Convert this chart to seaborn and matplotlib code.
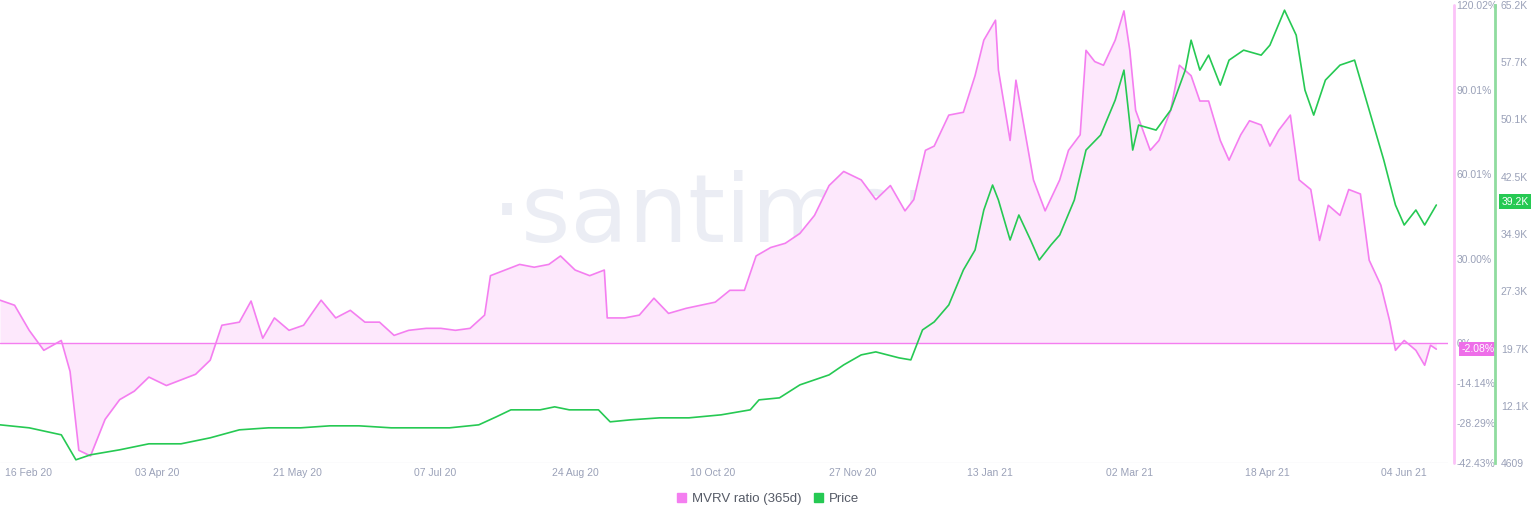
import matplotlib
matplotlib.use("Agg")
import matplotlib.pyplot as plt
import matplotlib.dates as mdates
import matplotlib.transforms as mtransforms
import seaborn as sns
import pandas as pd
import numpy as np

START = "2020-02-09"
mvrv_days = [0,5,10,15,21,24,27,31,36,41,46,51,57,62,67,72,76,82,86,90,94,99,104,110,115,120,125,130,135,140,146,151,156,161,166,168,173,178,183,188,192,197,202,207,208,214,219,224,229,235,240,245,250,255,259,264,269,274,279,284,289,295,300,305,310,313,317,320,325,330,334,337,341,342,346,348,351,354,358,363,366,370,372,375,378,382,385,387,389,394,397,401,404,408,411,414,418,421,425,428,432,435,438,442,445,449,452,455,459,462,466,469,473,476,478,481,485,488,490,492]
mvrv_vals = [15.3,13.5,4.6,-2.5,1,-10,-38,-40,-27,-20,-17,-12,-15,-13,-11,-6,6.4,7.5,15,1.8,9,4.6,6.4,15.3,9,11.7,7.5,7.5,2.8,4.6,5.3,5.3,4.6,5.3,10,24,26,28,27,28,31,26,24,26,9,9,10,16,10.6,12.4,13.5,14.6,18.8,18.8,31,34,35.5,39,45.4,56,61,58,51,56,47,51,68.5,70,81,82,95,107.6,114.7,97,72,93.4,75.6,58,47,58,68.5,74,104,100,98.7,107.6,118,104,82.7,68.5,72,82.7,98.7,95,86,86,72,65,74,79,77.5,70,75.6,81,58,54.6,36.5,49,45.4,54.6,53,29.5,20.6,8,-2.5,1,-2.5,-7.8,-0.7,-2.08]
price_days = [0,10,21,26,31,41,51,62,72,82,92,103,113,123,134,144,154,164,170,175,185,190,195,205,209,216,226,236,247,257,260,267,274,284,289,295,300,308,312,316,320,325,330,334,337,340,342,346,349,353,356,360,363,368,372,377,382,385,388,390,396,401,406,408,411,414,418,421,426,432,435,440,444,447,450,454,459,464,469,474,478,481,485,488,492]
price_vals = [9636,9240,8313,5006,5667,6329,7123,7123,7916,8975,9240,9240,9504,9504,9240,9240,9240,9636,10695,11621,11621,12018,11621,11621,10033,10298,10562,10562,10959,11621,12944,13209,14928,16251,17574,18897,19294,18500,18236,22204,23263,25512,30143,32789,38081,41388,39404,34111,37420,34111,31466,33450,34773,39404,46018,48003,52634,56603,46018,49326,48664,51310,56603,60572,56603,58587,54618,57925,59248,58587,59910,64540,61234,53957,50649,55280,57264,57925,51310,44695,38742,36096,38081,36096,38742]
mvrv_ticks = [-42.43,-28.29,-14.14,0,30.00,60.01,90.01,120.02]
mvrv_tick_labels = ["-42.43%","-28.29%","-14.14%","0%","30.00%","60.01%","90.01%","120.02%"]
price_ticks = [4609,12100,19700,27300,34900,42500,50100,57700,65200]
price_tick_labels = ["4609","12.1K","19.7K","27.3K","34.9K","42.5K","50.1K","57.7K","65.2K"]
date_ticks = ["2020-02-16","2020-04-03","2020-05-21","2020-07-07","2020-08-24","2020-10-10","2020-11-27","2021-01-13","2021-03-02","2021-04-18","2021-06-04"]

start = pd.Timestamp(START)
dm = pd.DataFrame({"date": start + pd.to_timedelta(mvrv_days, unit="D"), "v": mvrv_vals})
dp = pd.DataFrame({"date": start + pd.to_timedelta(price_days, unit="D"), "v": price_vals})

PINK = "#f47ef0"; GREEN = "#26c953"; GRAY = "#9aa1b8"
sns.set_style("white")
plt.rcParams['font.family'] = ['Liberation Sans', 'DejaVu Sans']
fig = plt.figure(figsize=(15.36, 5.2), dpi=100)
ax = fig.add_axes([0, 0.11, 1448/1536, 0.88])
ax2 = ax.twinx()

ax.fill_between(dm["date"], dm["v"], 0, color="#fde8fc", lw=0)
ax.axhline(0, color=PINK, lw=1)
sns.lineplot(data=dm, x="date", y="v", ax=ax, color=PINK, lw=1.2)
sns.lineplot(data=dp, x="date", y="v", ax=ax2, color=GREEN, lw=1.2)

ax.set_xlim(start, start + pd.Timedelta(days=496))
ax.set_ylim(-42.43, 120.02); ax2.set_ylim(4609, 65200)
for a in (ax, ax2):
    a.set_xlabel(""); a.set_ylabel("")
    for s in ["top", "left", "bottom"]:
        a.spines[s].set_visible(False)
ax.spines["right"].set_visible(False)
ax.axvline(start + pd.Timedelta(days=498), color="#fbc3f8", lw=2, clip_on=False)
ax2.spines["right"].set_position(("outward", 34))
ax2.spines["right"].set_color("#8fdc9f"); ax2.spines["right"].set_linewidth(2)

ax.yaxis.tick_right()
ax.set_yticks(mvrv_ticks); ax.set_yticklabels(mvrv_tick_labels)
ax.tick_params(axis="y", length=0, pad=6, labelsize=7.5, labelcolor=GRAY)
ax2.set_yticks(price_ticks); ax2.set_yticklabels(price_tick_labels)
ax2.tick_params(axis="y", length=0, pad=4, labelsize=7.5, labelcolor=GRAY)
ax.set_xticks(pd.to_datetime(date_ticks))
ax.xaxis.set_major_formatter(mdates.DateFormatter("%d %b %y"))
ax.tick_params(axis="x", length=0, pad=4, labelsize=7.5, labelcolor=GRAY)
first = ax.get_xticklabels()[0]
first.set_ha("left")
first.set_transform(first.get_transform() + mtransforms.ScaledTranslation(-15/100, 0, fig.dpi_scale_trans))
ax.axhline(-42.43, color="#eceef4", lw=1)

ax.text(0.525, 0.54, "·santiment·", transform=ax.transAxes, ha="center", va="center",
        fontsize=68, color="#e6e9f2", alpha=0.8, zorder=0, family="DejaVu Sans")

ax.text(1.009, (mvrv_vals[-1]+42.43)/162.45, "%.2f%%" % mvrv_vals[-1], transform=ax.transAxes,
        ha="left", va="center", fontsize=7.5, color="white",
        bbox=dict(boxstyle="square,pad=0.2", fc="#ee6ee9", ec="none"))
ax2.text(1.037, (39200-4609)/60591, "39.2K", transform=ax2.transAxes, ha="left", va="center",
         fontsize=7.5, color="white", bbox=dict(boxstyle="square,pad=0.2", fc=GREEN, ec="none"))

from matplotlib.patches import Patch
fig.legend(handles=[Patch(color=PINK, label="MVRV ratio (365d)"), Patch(color=GREEN, label="Price")],
           loc="center", bbox_to_anchor=(0.5, 0.04), ncol=2, frameon=False, fontsize=9.5,
           handlelength=0.7, handleheight=0.7, columnspacing=1.0, handletextpad=0.4,
           labelcolor="#555a66")
fig.savefig("out.png", dpi=100)
